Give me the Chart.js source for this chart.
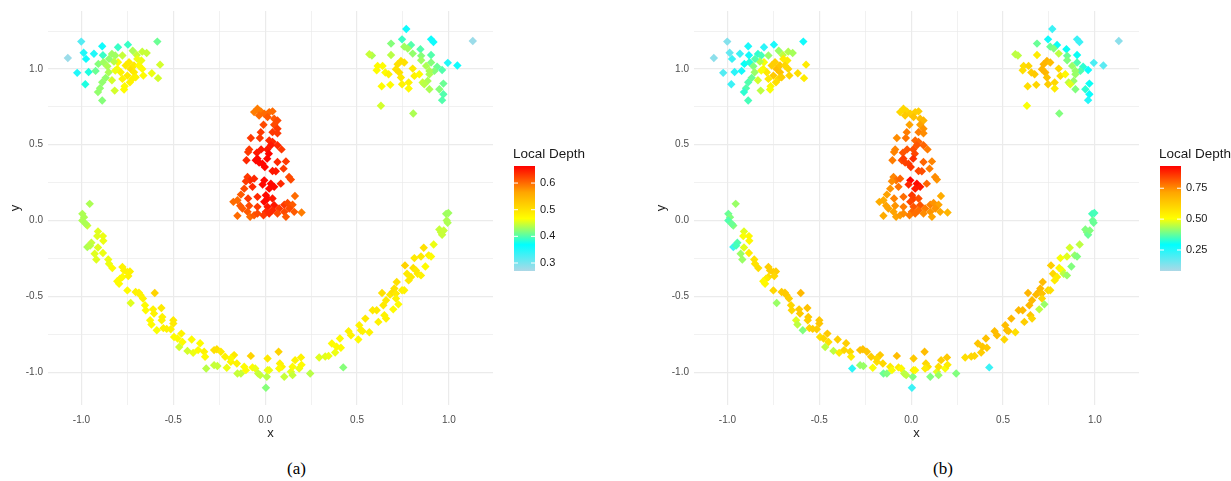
<!DOCTYPE html>
<html>
<head>
<meta charset="utf-8">
<script src="https://cdn.jsdelivr.net/npm/chart.js@4.4.1/dist/chart.umd.min.js"></script>
<style>
  body { margin: 0; background: #fff; width: 1231px; height: 481px; position: relative; overflow: hidden; }
  canvas { position: absolute; top: 0; }
  #cA { left: 0; }
  #cB { left: 646px; }
  .cap { position: absolute; top: 459px; font: 17px "Liberation Serif", "Times New Roman", serif; color: #000; }
</style>
</head>
<body>
<canvas id="cA" width="585" height="445"></canvas>
<canvas id="cB" width="585" height="445"></canvas>
<div class="cap" style="left:287px">(a)</div>
<div class="cap" style="left:933px">(b)</div>
<script>
// rows: [x, y, depth (a), depth (b)]
const leftEye = [
  [-1.074, 1.072, 0.28, 0.12], [-1.001, 1.18, 0.32, 0.13], [-0.988, 1.107, 0.35, 0.17], [-0.975, 1.066, 0.36, 0.22],
  [-1.023, 0.974, 0.35, 0.19], [-0.961, 0.98, 0.38, 0.24], [-0.979, 0.899, 0.38, 0.22], [-0.932, 1.10, 0.35, 0.22],
  [-0.887, 1.149, 0.36, 0.26], [-0.883, 1.09, 0.39, 0.27], [-0.923, 0.987, 0.41, 0.27], [-0.908, 1.033, 0.42, 0.30],
  [-0.88, 1.044, 0.43, 0.32], [-0.859, 1.018, 0.435, 0.40], [-0.852, 0.978, 0.435, 0.42], [-0.868, 0.941, 0.425, 0.38],
  [-0.887, 0.912, 0.425, 0.36], [-0.899, 0.873, 0.425, 0.36], [-0.91, 0.847, 0.425, 0.33], [-0.887, 0.792, 0.42, 0.35],
  [-0.834, 0.925, 0.45, 0.47], [-0.819, 0.857, 0.45, 0.45], [-0.801, 1.143, 0.39, 0.24], [-0.747, 1.16, 0.39, 0.26],
  [-0.834, 1.099, 0.43, 0.33], [-0.816, 1.088, 0.43, 0.35], [-0.721, 1.12, 0.435, 0.42], [-0.699, 1.092, 0.445, 0.45],
  [-0.669, 1.114, 0.445, 0.44], [-0.645, 1.105, 0.445, 0.43], [-0.587, 1.18, 0.41, 0.27], [-0.572, 1.028, 0.45, 0.55],
  [-0.617, 0.971, 0.46, 0.58], [-0.583, 0.939, 0.45, 0.55], [-0.669, 1.0, 0.47, 0.60], [-0.663, 0.956, 0.47, 0.60],
  [-0.696, 1.066, 0.46, 0.55], [-0.674, 1.055, 0.46, 0.55], [-0.805, 1.0, 0.47, 0.52], [-0.786, 0.978, 0.48, 0.56],
  [-0.759, 1.022, 0.49, 0.62], [-0.741, 1.044, 0.49, 0.62], [-0.732, 1.0, 0.50, 0.66], [-0.714, 0.978, 0.49, 0.65],
  [-0.75, 0.956, 0.49, 0.63], [-0.723, 0.934, 0.48, 0.60], [-0.705, 0.945, 0.48, 0.62], [-0.777, 0.934, 0.48, 0.56],
  [-0.765, 0.886, 0.47, 0.52], [-0.768, 0.864, 0.47, 0.50], [-0.714, 1.022, 0.49, 0.64], [-0.801, 1.044, 0.47, 0.50],
  [-0.823, 1.048, 0.44, 0.44], [-0.777, 1.088, 0.445, 0.42], [-0.85, 1.066, 0.425, 0.36], [-0.687, 1.022, 0.47, 0.60],
  [-0.736, 0.912, 0.48, 0.58], [-0.816, 0.989, 0.46, 0.50]
];
const rightEye = [
  [0.768, 1.263, 0.36, 0.22], [0.745, 1.195, 0.39, 0.27], [0.685, 1.167, 0.42, 0.38], [0.903, 1.195, 0.36, 0.22],
  [0.916, 1.178, 0.36, 0.22], [1.13, 1.184, 0.28, 0.12], [0.794, 1.158, 0.40, 0.30], [0.757, 1.147, 0.43, 0.38],
  [0.776, 1.134, 0.43, 0.40], [0.845, 1.13, 0.40, 0.30], [0.803, 1.101, 0.425, 0.45], [0.849, 1.086, 0.42, 0.38],
  [0.903, 1.092, 0.40, 0.30], [0.685, 1.092, 0.44, 0.55], [0.581, 1.088, 0.435, 0.45], [0.849, 1.057, 0.43, 0.40],
  [0.903, 1.042, 0.42, 0.36], [0.994, 1.04, 0.35, 0.20], [1.046, 1.022, 0.36, 0.18], [0.936, 1.015, 0.41, 0.33],
  [0.963, 0.993, 0.40, 0.28], [0.921, 0.987, 0.42, 0.36], [0.894, 0.965, 0.435, 0.42], [0.884, 0.921, 0.435, 0.42],
  [0.857, 0.91, 0.445, 0.45], [0.894, 0.866, 0.435, 0.40], [0.948, 0.866, 0.42, 0.33], [0.97, 0.903, 0.41, 0.30],
  [0.97, 0.833, 0.40, 0.28], [0.963, 0.794, 0.40, 0.25], [0.806, 0.706, 0.435, 0.40], [0.63, 0.757, 0.45, 0.50],
  [0.634, 0.886, 0.47, 0.58], [0.681, 0.895, 0.47, 0.60], [0.612, 1.02, 0.47, 0.58], [0.607, 0.991, 0.47, 0.58],
  [0.639, 1.02, 0.47, 0.60], [0.654, 0.976, 0.47, 0.62], [0.672, 0.965, 0.48, 0.63], [0.721, 1.031, 0.50, 0.68],
  [0.739, 1.053, 0.50, 0.68], [0.757, 1.042, 0.50, 0.66], [0.73, 0.976, 0.50, 0.68], [0.739, 0.943, 0.49, 0.65],
  [0.745, 0.899, 0.48, 0.62], [0.781, 0.91, 0.48, 0.60], [0.781, 0.871, 0.47, 0.55], [0.803, 1.002, 0.49, 0.60],
  [0.812, 0.954, 0.48, 0.58], [0.839, 0.965, 0.47, 0.52], [0.712, 0.998, 0.50, 0.68], [0.866, 0.899, 0.44, 0.48],
  [0.894, 0.987, 0.435, 0.42], [0.876, 1.02, 0.435, 0.42], [0.567, 1.097, 0.445, 0.45]
];
const nose = [
  [-0.042, 0.737, 0.59, 0.60], [-0.06, 0.715, 0.59, 0.60], [-0.024, 0.72, 0.59, 0.60], [-0.005, 0.704, 0.60, 0.62],
  [0.022, 0.715, 0.60, 0.62], [0.04, 0.72, 0.60, 0.62], [-0.033, 0.693, 0.60, 0.63], [0.013, 0.682, 0.61, 0.65],
  [0.049, 0.671, 0.61, 0.66], [0.067, 0.66, 0.62, 0.68], [-0.009, 0.632, 0.62, 0.72], [0.049, 0.632, 0.62, 0.72],
  [0.067, 0.605, 0.63, 0.74], [0.04, 0.583, 0.63, 0.77], [0.067, 0.575, 0.63, 0.75], [-0.078, 0.544, 0.63, 0.75],
  [-0.029, 0.544, 0.63, 0.78], [0.022, 0.528, 0.64, 0.80], [0.04, 0.519, 0.64, 0.80], [0.067, 0.496, 0.64, 0.80],
  [0.089, 0.469, 0.63, 0.77], [-0.087, 0.469, 0.63, 0.76], [-0.022, 0.469, 0.65, 0.82], [-0.045, 0.447, 0.65, 0.82],
  [0.011, 0.469, 0.65, 0.83], [0.02, 0.441, 0.66, 0.84], [-0.093, 0.452, 0.63, 0.76], [-0.102, 0.397, 0.64, 0.77],
  [-0.051, 0.397, 0.66, 0.83], [-0.033, 0.382, 0.66, 0.84], [-0.015, 0.375, 0.66, 0.85], [-0.002, 0.353, 0.66, 0.86],
  [0.067, 0.386, 0.64, 0.80], [0.113, 0.39, 0.63, 0.76], [0.1, 0.342, 0.63, 0.77], [0.04, 0.327, 0.65, 0.84],
  [0.058, 0.325, 0.65, 0.83], [0.14, 0.27, 0.62, 0.74], [0.13, 0.287, 0.62, 0.75], [-0.096, 0.287, 0.63, 0.76],
  [-0.082, 0.265, 0.64, 0.78], [-0.105, 0.259, 0.63, 0.75], [-0.005, 0.265, 0.66, 0.93], [-0.014, 0.237, 0.66, 0.88],
  [0.031, 0.243, 0.66, 0.92], [0.049, 0.222, 0.66, 0.90], [0.022, 0.21, 0.66, 0.90], [-0.114, 0.21, 0.62, 0.74],
  [-0.069, 0.222, 0.64, 0.78], [-0.132, 0.171, 0.61, 0.72], [-0.151, 0.134, 0.60, 0.70], [-0.173, 0.123, 0.60, 0.70],
  [-0.136, 0.097, 0.61, 0.72], [-0.124, 0.079, 0.61, 0.72], [-0.093, 0.145, 0.63, 0.76], [-0.087, 0.097, 0.62, 0.74],
  [-0.096, 0.057, 0.61, 0.72], [-0.151, 0.031, 0.60, 0.70], [-0.082, 0.024, 0.60, 0.72], [-0.06, 0.035, 0.61, 0.73],
  [-0.042, 0.046, 0.62, 0.75], [-0.042, 0.09, 0.63, 0.77], [0.004, 0.167, 0.66, 0.86], [0.013, 0.145, 0.66, 0.85],
  [-0.005, 0.123, 0.66, 0.84], [0.04, 0.145, 0.65, 0.83], [0.049, 0.101, 0.65, 0.82], [0.013, 0.09, 0.65, 0.82],
  [0.004, 0.057, 0.64, 0.80], [-0.009, 0.035, 0.63, 0.77], [0.022, 0.046, 0.64, 0.79], [0.076, 0.079, 0.63, 0.77],
  [0.104, 0.104, 0.63, 0.76], [0.122, 0.116, 0.62, 0.74], [0.149, 0.104, 0.61, 0.72], [0.162, 0.162, 0.60, 0.70],
  [0.131, 0.079, 0.62, 0.74], [0.104, 0.057, 0.62, 0.74], [0.113, 0.024, 0.61, 0.72], [0.158, 0.057, 0.61, 0.71],
  [0.198, 0.053, 0.59, 0.68], [0.067, 0.046, 0.62, 0.75], [0.04, 0.068, 0.64, 0.79], [-0.042, 0.156, 0.64, 0.79],
  [-0.06, 0.276, 0.64, 0.80], [-0.024, 0.583, 0.63, 0.77], [0.031, 0.496, 0.65, 0.82], [0.085, 0.243, 0.64, 0.80],
  [-0.042, 0.408, 0.66, 0.85], [0.011, 0.408, 0.66, 0.87]
];
const mouth = [
  [-0.995, 0.044, 0.435, 0.38], [-0.986, 0.022, 0.435, 0.40], [-0.995, 0.0, 0.435, 0.36], [-0.968, -0.033, 0.445, 0.40],
  [-0.977, -0.022, 0.435, 0.38], [-0.91, -0.072, 0.455, 0.48], [-0.914, -0.103, 0.455, 0.50], [-0.883, -0.103, 0.46, 0.52],
  [-0.881, -0.134, 0.46, 0.52], [-0.946, -0.147, 0.445, 0.36], [-0.968, -0.175, 0.435, 0.22], [-0.953, -0.166, 0.44, 0.35],
  [-0.91, -0.178, 0.455, 0.48], [-0.928, -0.219, 0.455, 0.42], [-0.919, -0.257, 0.455, 0.42], [-0.883, -0.214, 0.46, 0.55],
  [-0.854, -0.257, 0.46, 0.57], [-0.85, -0.285, 0.46, 0.57], [-0.832, -0.314, 0.47, 0.58], [-0.777, -0.307, 0.48, 0.62],
  [-0.768, -0.329, 0.48, 0.62], [-0.75, -0.34, 0.48, 0.62], [-0.736, -0.336, 0.48, 0.62], [-0.777, -0.373, 0.47, 0.58],
  [-0.79, -0.384, 0.47, 0.55], [-0.805, -0.401, 0.47, 0.52], [-0.795, -0.417, 0.47, 0.52], [-0.745, -0.366, 0.48, 0.60],
  [-0.75, -0.461, 0.47, 0.60], [-0.732, -0.544, 0.455, 0.42], [-0.705, -0.472, 0.48, 0.63], [-0.687, -0.476, 0.48, 0.63],
  [-0.678, -0.493, 0.48, 0.63], [-0.665, -0.515, 0.48, 0.62], [-0.601, -0.478, 0.515, 0.67], [-0.654, -0.559, 0.47, 0.60],
  [-0.65, -0.592, 0.47, 0.60], [-0.61, -0.586, 0.48, 0.63], [-0.605, -0.614, 0.48, 0.63], [-0.565, -0.577, 0.49, 0.65],
  [-0.56, -0.636, 0.48, 0.63], [-0.563, -0.658, 0.48, 0.62], [-0.626, -0.658, 0.47, 0.48], [-0.619, -0.686, 0.47, 0.45],
  [-0.59, -0.724, 0.465, 0.40], [-0.554, -0.71, 0.48, 0.60], [-0.536, -0.715, 0.48, 0.62], [-0.514, -0.717, 0.48, 0.62],
  [-0.5, -0.68, 0.49, 0.64], [-0.496, -0.768, 0.47, 0.58], [-0.477, -0.778, 0.47, 0.60], [-0.456, -0.746, 0.48, 0.63],
  [-0.45, -0.801, 0.47, 0.58], [-0.468, -0.834, 0.45, 0.45], [-0.4, -0.785, 0.47, 0.62], [-0.423, -0.86, 0.45, 0.45],
  [-0.392, -0.873, 0.46, 0.55], [-0.354, -0.81, 0.47, 0.62], [-0.365, -0.855, 0.47, 0.60], [-0.332, -0.866, 0.48, 0.60],
  [-0.327, -0.899, 0.47, 0.55], [-0.321, -0.976, 0.44, 0.24], [-0.278, -0.855, 0.50, 0.65], [-0.263, -0.849, 0.50, 0.65],
  [-0.241, -0.866, 0.49, 0.64], [-0.218, -0.899, 0.48, 0.62], [-0.278, -0.954, 0.445, 0.42], [-0.26, -0.96, 0.445, 0.42],
  [-0.209, -0.971, 0.46, 0.50], [-0.187, -0.932, 0.48, 0.58], [-0.169, -0.888, 0.49, 0.63], [-0.187, -0.91, 0.47, 0.60],
  [-0.154, -0.943, 0.48, 0.60], [-0.151, -1.009, 0.445, 0.38], [-0.132, -1.009, 0.445, 0.40], [-0.114, -0.965, 0.47, 0.55],
  [-0.105, -0.987, 0.47, 0.50], [-0.078, -0.893, 0.515, 0.66], [-0.069, -0.969, 0.47, 0.55], [-0.054, -0.976, 0.46, 0.52],
  [-0.038, -1.009, 0.445, 0.45], [-0.027, -1.02, 0.445, 0.45], [0.009, -1.031, 0.44, 0.40], [0.004, -1.103, 0.42, 0.22],
  [0.013, -0.987, 0.46, 0.55], [0.013, -0.91, 0.49, 0.63], [-0.5, -0.658, 0.49, 0.64], [-0.955, 0.11, 0.435, 0.42],
  [0.022, -0.987, 0.46, 0.52], [0.073, -0.866, 0.515, 0.66], [0.08, -0.943, 0.48, 0.60], [0.091, -0.965, 0.48, 0.58],
  [0.076, -0.976, 0.47, 0.55], [0.104, -1.031, 0.445, 0.40], [0.14, -0.998, 0.455, 0.48], [0.149, -1.02, 0.445, 0.42],
  [0.149, -0.965, 0.47, 0.58], [0.163, -0.921, 0.48, 0.62], [0.195, -0.903, 0.48, 0.63], [0.185, -0.976, 0.46, 0.50],
  [0.198, -0.952, 0.47, 0.55], [0.245, -1.009, 0.44, 0.40], [0.294, -0.904, 0.455, 0.58], [0.327, -0.897, 0.455, 0.60],
  [0.345, -0.893, 0.46, 0.60], [0.381, -0.871, 0.46, 0.62], [0.363, -0.811, 0.47, 0.64], [0.389, -0.833, 0.47, 0.64],
  [0.407, -0.778, 0.47, 0.65], [0.412, -0.839, 0.47, 0.63], [0.425, -0.969, 0.42, 0.22], [0.454, -0.73, 0.48, 0.66],
  [0.467, -0.757, 0.48, 0.66], [0.507, -0.785, 0.47, 0.60], [0.512, -0.691, 0.48, 0.66], [0.521, -0.724, 0.48, 0.66],
  [0.53, -0.73, 0.48, 0.65], [0.545, -0.647, 0.49, 0.67], [0.567, -0.737, 0.48, 0.58], [0.585, -0.592, 0.49, 0.67],
  [0.607, -0.592, 0.49, 0.67], [0.616, -0.669, 0.48, 0.62], [0.649, -0.625, 0.48, 0.64], [0.643, -0.559, 0.49, 0.67],
  [0.658, -0.647, 0.48, 0.60], [0.658, -0.526, 0.49, 0.67], [0.636, -0.478, 0.50, 0.68], [0.68, -0.489, 0.49, 0.67],
  [0.694, -0.471, 0.50, 0.67], [0.703, -0.449, 0.50, 0.67], [0.712, -0.482, 0.49, 0.65], [0.712, -0.515, 0.48, 0.60],
  [0.697, -0.586, 0.47, 0.45], [0.725, -0.553, 0.47, 0.42], [0.745, -0.46, 0.48, 0.60], [0.757, -0.46, 0.48, 0.58],
  [0.716, -0.406, 0.50, 0.66], [0.761, -0.296, 0.515, 0.62], [0.772, -0.351, 0.49, 0.60], [0.781, -0.395, 0.49, 0.55],
  [0.794, -0.373, 0.49, 0.55], [0.806, -0.313, 0.50, 0.52], [0.821, -0.329, 0.49, 0.50], [0.83, -0.351, 0.49, 0.45],
  [0.848, -0.362, 0.48, 0.42], [0.872, -0.303, 0.47, 0.40], [0.812, -0.248, 0.49, 0.50], [0.848, -0.237, 0.49, 0.48],
  [0.863, -0.18, 0.50, 0.47], [0.89, -0.23, 0.48, 0.42], [0.903, -0.237, 0.47, 0.40], [0.917, -0.158, 0.46, 0.45],
  [0.948, -0.059, 0.445, 0.40], [0.957, -0.077, 0.445, 0.40], [0.963, -0.094, 0.445, 0.38], [0.985, 0.044, 0.43, 0.35],
  [0.997, 0.05, 0.43, 0.35], [0.988, 0.0, 0.435, 0.38], [0.993, -0.015, 0.435, 0.38], [0.972, -0.066, 0.445, 0.40]
];

const xGrid = [-1, -0.75, -0.5, -0.25, 0, 0.25, 0.5, 0.75, 1];
const yGrid = [-1, -0.75, -0.5, -0.25, 0, 0.25, 0.5, 0.75, 1, 1.25];
const xRange = [-1.182, 1.24];
const yRange = [-1.217, 1.382];

const legendTitle = 'Local Depth';
const limitsA = [0.27, 0.664];
const limitsB = [0.08, 0.93];
const ticksA = [0.3, 0.4, 0.5, 0.6];
const ticksB = [0.25, 0.5, 0.75];
const ticksBLabels = ['0.25', '0.50', '0.75'];

const palette = [[173, 216, 230], [0, 255, 255], [255, 255, 0], [255, 165, 0], [255, 0, 0]];

function depthColor(d, lim) {
    let t = (d - lim[0]) / (lim[1] - lim[0]);
    t = Math.max(0, Math.min(1, t));
    const pos = t * (palette.length - 1);
    const i = Math.min(palette.length - 2, Math.floor(pos));
    const f = pos - i;
    const a = palette[i], b = palette[i + 1];
    const c = a.map((v, k) => Math.round(v + (b[k] - v) * f));
    return `rgb(${c[0]},${c[1]},${c[2]})`;
}

const colorbar = {
    id: 'colorbar',
    afterDraw(chart, args, opts) {
        const ctx = chart.ctx;
        const left = chart.chartArea.right + 21, w = 21, top = 166, bottom = 271;
        ctx.save();
        ctx.fillStyle = '#1a1a1a';
        ctx.font = '13.5px "Liberation Sans", Arial, sans-serif';
        ctx.textBaseline = 'middle';
        ctx.textAlign = 'left';
        ctx.fillText(legendTitle, left - 1, 154);
        const g = ctx.createLinearGradient(0, bottom, 0, top);
        palette.forEach((c, i) => g.addColorStop(i / (palette.length - 1), `rgb(${c[0]},${c[1]},${c[2]})`));
        ctx.fillStyle = g;
        ctx.fillRect(left, top, w, bottom - top);
        ctx.font = '11px "Liberation Sans", Arial, sans-serif';
        opts.ticks.forEach((v, i) => {
            const y = bottom - (v - opts.limits[0]) / (opts.limits[1] - opts.limits[0]) * (bottom - top);
            ctx.strokeStyle = '#fff';
            ctx.lineWidth = 1;
            ctx.beginPath();
            ctx.moveTo(left, y); ctx.lineTo(left + 4, y);
            ctx.moveTo(left + w - 4, y); ctx.lineTo(left + w, y);
            ctx.stroke();
            ctx.fillStyle = '#1a1a1a';
            ctx.fillText(opts.labels[i], left + w + 5, y);
        });
        ctx.restore();
    }
};

function makeChart(id, col, limits, ticks, labels) {
    const groups = [leftEye, rightEye, nose, mouth];
    const datasets = groups.map(g => ({
        data: g.map(r => ({x: r[0], y: r[1]})),
        pointStyle: 'rectRot',
        pointRadius: 4.2,
        pointBorderWidth: 0,
        pointBackgroundColor: g.map(r => depthColor(r[col], limits)),
        showLine: false
    }));
    const gridStyle = {
        color: '#ebebeb',
        lineWidth: c => (Math.abs(c.tick.value * 2 - Math.round(c.tick.value * 2)) < 1e-6 ? 1.2 : 0.7),
        drawTicks: false
    };
    const fmt = v => (Math.abs(v * 2 - Math.round(v * 2)) < 1e-6 ? v.toFixed(1) : '');
    return new Chart(document.getElementById(id), {
        type: 'scatter',
        data: {datasets},
        plugins: [colorbar],
        options: {
            responsive: false,
            animation: false,
            devicePixelRatio: 1,
            layout: {padding: {left: 0, top: 10, right: 92, bottom: 0}},
            plugins: {
                legend: {display: false},
                tooltip: {enabled: false},
                colorbar: {limits, ticks, labels}
            },
            scales: {
                x: {
                    type: 'linear', min: xRange[0], max: xRange[1],
                    afterBuildTicks: s => { s.ticks = xGrid.map(v => ({value: v})); },
                    afterFit: s => { s.height = 40; },
                    grid: gridStyle,
                    border: {display: false},
                    ticks: {autoSkip: false, maxRotation: 0, padding: 9, color: '#4d4d4d',
                        font: {family: '"Liberation Sans", Arial, sans-serif', size: 10}, callback: fmt},
                    title: {display: true, text: 'x', color: '#222', padding: {top: 0, bottom: 4},
                        font: {family: '"Liberation Sans", Arial, sans-serif', size: 13}}
                },
                y: {
                    type: 'linear', min: yRange[0], max: yRange[1],
                    afterBuildTicks: s => { s.ticks = yGrid.map(v => ({value: v})); },
                    afterFit: s => { s.width = 48; },
                    grid: gridStyle,
                    border: {display: false},
                    ticks: {autoSkip: false, padding: 5, color: '#4d4d4d',
                        font: {family: '"Liberation Sans", Arial, sans-serif', size: 10}, callback: fmt},
                    title: {display: true, text: 'y', color: '#222', padding: {top: 8, bottom: 0},
                        font: {family: '"Liberation Sans", Arial, sans-serif', size: 13}}
                }
            }
        }
    });
}

makeChart('cA', 2, limitsA, ticksA, ticksA.map(v => v.toFixed(1)));
makeChart('cB', 3, limitsB, ticksB, ticksBLabels);
</script>
</body>
</html>
